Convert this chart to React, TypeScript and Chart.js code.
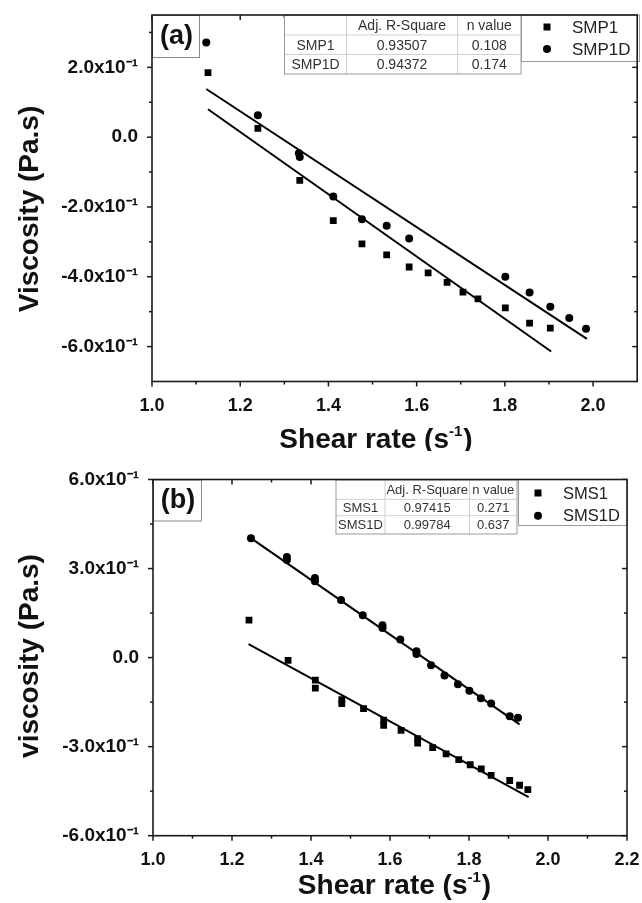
import React, { useEffect, useRef } from 'react';
import { Chart, registerables } from 'chart.js';

Chart.register(...registerables);

const FONT = '"Liberation Sans", Arial, Helvetica, sans-serif';

// ---------------- Panel (a) data ----------------
const smp1X = [1.127, 1.240, 1.335, 1.411, 1.476, 1.532, 1.583, 1.626, 1.669, 1.705, 1.739, 1.801, 1.856, 1.903];
const smp1Y = [0.185, 0.025, -0.124, -0.239, -0.306, -0.337, -0.372, -0.389, -0.416, -0.444, -0.463, -0.489, -0.533, -0.547];
const smp1dX = [1.123, 1.240, 1.333, 1.335, 1.411, 1.476, 1.532, 1.583, 1.801, 1.856, 1.903, 1.946, 1.984];
const smp1dY = [0.271, 0.063, -0.046, -0.057, -0.170, -0.235, -0.254, -0.290, -0.400, -0.445, -0.486, -0.518, -0.549];
const smp1FitX = [1.127, 1.905];
const smp1FitY = [0.080, -0.614];
const smp1dFitX = [1.123, 1.986];
const smp1dFitY = [0.138, -0.578];
const xTicksA = [1.0, 1.2, 1.4, 1.6, 1.8, 2.0];
const yTicksA = [-0.6, -0.4, -0.2, 0.0, 0.2];
const tableHeadA = ['', 'Adj. R-Square', 'n value'];
const tableNamesA = ['SMP1', 'SMP1D'];
const tableR2A = ['0.93507', '0.94372'];
const tableNA = ['0.108', '0.174'];

// ---------------- Panel (b) data ----------------
const sms1X = [1.243, 1.342, 1.411, 1.411, 1.478, 1.478, 1.533, 1.584, 1.584, 1.628, 1.670, 1.670, 1.708, 1.742, 1.774, 1.803, 1.831, 1.856, 1.903, 1.928, 1.949];
const sms1Y = [0.126, -0.009, -0.076, -0.103, -0.142, -0.155, -0.172, -0.211, -0.228, -0.245, -0.273, -0.288, -0.303, -0.324, -0.344, -0.361, -0.375, -0.397, -0.414, -0.430, -0.445];
const sms1dX = [1.248, 1.339, 1.339, 1.410, 1.410, 1.476, 1.531, 1.581, 1.581, 1.626, 1.667, 1.667, 1.704, 1.738, 1.772, 1.801, 1.830, 1.856, 1.903, 1.924];
const sms1dY = [0.402, 0.339, 0.329, 0.268, 0.257, 0.194, 0.143, 0.109, 0.100, 0.061, 0.021, 0.012, -0.026, -0.060, -0.090, -0.112, -0.137, -0.155, -0.198, -0.203];
const sms1FitX = [1.242, 1.951];
const sms1FitY = [0.045, -0.470];
const sms1dFitX = [1.245, 1.928];
const sms1dFitY = [0.405, -0.225];
const xTicksB = [1.0, 1.2, 1.4, 1.6, 1.8, 2.0, 2.2];
const yTicksB = [-0.6, -0.3, 0.0, 0.3, 0.6];
const tableHeadB = ['', 'Adj. R-Square', 'n value'];
const tableNamesB = ['SMS1', 'SMS1D'];
const tableR2B = ['0.97415', '0.99784'];
const tableNB = ['0.271', '0.637'];

const xTitleMain = 'Shear rate (s';
const xTitleSup = '-1';
const xTitleTail = ')';

type Spec = {
  canvasH: number;
  top: number;
  area: { left: number; right: number; top: number; bottom: number };
  xMin: number; xMax: number; yMin: number; yMax: number;
  xTicks: number[]; yTicks: number[];
  series: { label: string; style: 'rect' | 'circle'; xs: number[]; ys: number[] }[];
  fits: { xs: number[]; ys: number[] }[];
  panelLabel: string;
  labelBox: { x: number; y: number; w: number; h: number };
  table: { cols: number[]; rows: number[]; font: number; cells: string[][] };
  legend: { x0: number; y0: number; x1: number; y1: number; itemY: number[]; markerX: number; textX: number; font: number };
  yTitle: string; yTitleX: number; yTitleY: number;
  xTitleX: number; xTitleY: number;
  tickFont: number;
};

function minorTicks(major: number[], min: number, max: number) {
  const step = major[1] - major[0];
  const out: number[] = [];
  for (let v = major[0] - step / 2; v < max - 1e-9; v += step) {
    if (v > min + 1e-9) out.push(+v.toFixed(4));
  }
  return out;
}

function yLabel(v: number) {
  if (Math.abs(v) < 1e-9) return '0.0';
  return `${(v * 10).toFixed(1)}x10\u207B\u00B9`;
}

function makeDecor(p: Spec) {
  return {
    id: 'decor',
    afterDraw(chart: any) {
      const ctx: CanvasRenderingContext2D = chart.ctx;
      const a = chart.chartArea;
      const xs = chart.scales.x;
      const ys = chart.scales.y;
      ctx.save();
      const line = (x1: number, y1: number, x2: number, y2: number) => {
        ctx.beginPath(); ctx.moveTo(x1, y1); ctx.lineTo(x2, y2); ctx.stroke();
      };
      // ticks
      ctx.strokeStyle = '#1a1a1a';
      ctx.lineWidth = 1.5;
      const tx = (v: number, len: number) => {
        const px = xs.getPixelForValue(v);
        line(px, a.bottom, px, a.bottom + len);
        line(px, a.top, px, a.top + len);
      };
      const ty = (v: number, len: number) => {
        const py = ys.getPixelForValue(v);
        line(a.left - len, py, a.left, py);
        line(a.right, py, a.right - len, py);
      };
      p.xTicks.forEach((v) => tx(v, 5));
      minorTicks(p.xTicks, p.xMin, p.xMax).forEach((v) => tx(v, 3));
      p.yTicks.forEach((v) => ty(v, 5));
      minorTicks(p.yTicks, p.yMin, p.yMax).forEach((v) => ty(v, 3));

      // panel label box
      const lb = p.labelBox;
      ctx.fillStyle = '#fff';
      ctx.fillRect(lb.x, lb.y, lb.w, lb.h);
      ctx.strokeStyle = '#8a8a8a';
      ctx.lineWidth = 1;
      ctx.strokeRect(lb.x + 0.5, lb.y + 0.5, lb.w, lb.h);
      ctx.fillStyle = '#111';
      ctx.font = `bold 27px ${FONT}`;
      ctx.textAlign = 'center';
      ctx.textBaseline = 'middle';
      ctx.fillText(p.panelLabel, lb.x + lb.w / 2 + 1, lb.y + lb.h / 2 + 1);

      // table
      const t = p.table;
      const tx0 = t.cols[0], tx1 = t.cols[t.cols.length - 1];
      const ty0 = t.rows[0], ty1 = t.rows[t.rows.length - 1];
      ctx.fillStyle = '#fff';
      ctx.fillRect(tx0, ty0, tx1 - tx0, ty1 - ty0);
      ctx.strokeStyle = '#cfcfcf';
      ctx.lineWidth = 1;
      t.rows.slice(1, -1).forEach((r) => line(tx0, r, tx1, r));
      t.cols.slice(1, -1).forEach((c) => line(c, ty0, c, ty1));
      ctx.strokeStyle = '#9a9a9a';
      ctx.strokeRect(tx0, ty0, tx1 - tx0, ty1 - ty0);
      ctx.fillStyle = '#333';
      ctx.font = `${t.font}px ${FONT}`;
      t.cells.forEach((row, ri) => {
        row.forEach((cell, ci) => {
          const cx = (t.cols[ci] + t.cols[ci + 1]) / 2;
          const cy = (t.rows[ri] + t.rows[ri + 1]) / 2 + 1;
          ctx.fillText(cell, cx, cy);
        });
      });

      // legend
      const lg = p.legend;
      ctx.fillStyle = '#fff';
      ctx.fillRect(lg.x0, lg.y0, lg.x1 - lg.x0, lg.y1 - lg.y0);
      ctx.strokeStyle = '#9a9a9a';
      ctx.strokeRect(lg.x0 + 0.5, lg.y0, lg.x1 - lg.x0, lg.y1 - lg.y0 + 0.5);
      ctx.font = `${lg.font}px ${FONT}`;
      ctx.textAlign = 'left';
      p.series.forEach((s, i) => {
        const y = lg.itemY[i];
        ctx.fillStyle = '#000';
        if (s.style === 'rect') {
          ctx.fillRect(lg.markerX - 3.5, y - 3.5, 7, 7);
        } else {
          ctx.beginPath(); ctx.arc(lg.markerX, y, 4, 0, Math.PI * 2); ctx.fill();
        }
        ctx.fillStyle = '#222';
        ctx.fillText(s.label, lg.textX, y + 1);
      });

      // frame
      ctx.strokeStyle = '#1a1a1a';
      ctx.lineWidth = 1.6;
      ctx.strokeRect(a.left, a.top, a.right - a.left, a.bottom - a.top);

      // y title
      ctx.fillStyle = '#111';
      ctx.font = `bold 28px ${FONT}`;
      ctx.textAlign = 'center';
      ctx.textBaseline = 'middle';
      ctx.save();
      ctx.translate(p.yTitleX, p.yTitleY);
      ctx.rotate(-Math.PI / 2);
      ctx.fillText(p.yTitle, 0, 0);
      ctx.restore();

      // x title with superscript
      const mainFont = `bold 28px ${FONT}`;
      const supFont = `bold 15px ${FONT}`;
      ctx.textAlign = 'left';
      ctx.textBaseline = 'alphabetic';
      ctx.font = mainFont;
      const w1 = ctx.measureText(xTitleMain).width;
      const w3 = ctx.measureText(xTitleTail).width;
      ctx.font = supFont;
      const w2 = ctx.measureText(xTitleSup).width;
      const total = w1 + w2 + w3 + 1;
      let x = p.xTitleX - total / 2;
      const base = p.xTitleY + 10;
      ctx.font = mainFont;
      ctx.fillText(xTitleMain, x, base);
      x += w1;
      ctx.font = supFont;
      ctx.fillText(xTitleSup, x, base - 12);
      x += w2 + 1;
      ctx.font = mainFont;
      ctx.fillText(xTitleTail, x, base);
      ctx.restore();
    },
  };
}

function buildConfig(p: Spec): any {
  const datasets: any[] = [];
  p.series.forEach((s) => {
    datasets.push({
      label: s.label,
      data: s.xs.map((x, i) => ({ x, y: s.ys[i] })),
      pointStyle: s.style,
      pointRadius: s.style === 'rect' ? 4.8 : 4,
      backgroundColor: '#000',
      borderColor: '#000',
      borderWidth: 0,
      showLine: false,
    });
  });
  p.fits.forEach((f) => {
    datasets.push({
      label: 'fit',
      data: f.xs.map((x, i) => ({ x, y: f.ys[i] })),
      showLine: true,
      pointRadius: 0,
      borderColor: '#000',
      borderWidth: 2,
      fill: false,
    });
  });
  const xFont = { family: FONT, size: p.tickFont, weight: 'bold' as const };
  const yFont = { family: FONT, size: p.tickFont + 1, weight: 'bold' as const };
  return {
    type: 'scatter',
    data: { datasets },
    options: {
      animation: false,
      responsive: false,
      devicePixelRatio: 1,
      layout: { padding: { left: 0, right: 642 - p.area.right, top: p.area.top, bottom: 0 } },
      plugins: { legend: { display: false }, tooltip: { enabled: false } },
      scales: {
        x: {
          type: 'linear',
          min: p.xMin,
          max: p.xMax,
          afterBuildTicks: (s: any) => { s.ticks = p.xTicks.map((v) => ({ value: v })); },
          afterFit: (s: any) => { s.height = p.canvasH - p.area.bottom; s.paddingLeft = 0; s.paddingRight = 0; },
          ticks: { callback: (v: number) => Number(v).toFixed(1), font: xFont, color: '#111', padding: 6, maxRotation: 0, autoSkip: false },
          grid: { display: false },
          border: { display: false },
        },
        y: {
          type: 'linear',
          min: p.yMin,
          max: p.yMax,
          afterBuildTicks: (s: any) => { s.ticks = p.yTicks.map((v) => ({ value: v })); },
          afterFit: (s: any) => { s.width = p.area.left; s.paddingTop = 0; s.paddingBottom = 0; },
          ticks: { callback: (v: number) => yLabel(Number(v)), font: yFont, color: '#111', padding: 6, autoSkip: false },
          grid: { display: false },
          border: { display: false },
        },
      },
    },
    plugins: [makeDecor(p)],
  };
}

const specA: Spec = {
  canvasH: 451,
  top: 0,
  area: { left: 152, right: 639, top: 15, bottom: 381.5 },
  xMin: 1.0, xMax: 2.1, yMin: -0.7, yMax: 0.35,
  xTicks: xTicksA, yTicks: yTicksA,
  series: [
    { label: 'SMP1', style: 'rect', xs: smp1X, ys: smp1Y },
    { label: 'SMP1D', style: 'circle', xs: smp1dX, ys: smp1dY },
  ],
  fits: [
    { xs: smp1FitX, ys: smp1FitY },
    { xs: smp1dFitX, ys: smp1dFitY },
  ],
  panelLabel: '(a)',
  labelBox: { x: 152, y: 15, w: 47, h: 42 },
  table: {
    cols: [284.5, 346.5, 457.5, 521],
    rows: [15, 35, 54.5, 74],
    font: 14,
    cells: [tableHeadA, [tableNamesA[0], tableR2A[0], tableNA[0]], [tableNamesA[1], tableR2A[1], tableNA[1]]],
  },
  legend: { x0: 521, y0: 15, x1: 639, y1: 61, itemY: [27, 49], markerX: 547, textX: 572, font: 17 },
  yTitle: 'Viscosity (Pa.s)', yTitleX: 30, yTitleY: 209,
  xTitleX: 376, xTitleY: 438,
  tickFont: 18,
};

const specB: Spec = {
  canvasH: 452,
  top: 451,
  area: { left: 153, right: 627, top: 28.5, bottom: 384.7 },
  xMin: 1.0, xMax: 2.2, yMin: -0.6, yMax: 0.6,
  xTicks: xTicksB, yTicks: yTicksB,
  series: [
    { label: 'SMS1', style: 'rect', xs: sms1X, ys: sms1Y },
    { label: 'SMS1D', style: 'circle', xs: sms1dX, ys: sms1dY },
  ],
  fits: [
    { xs: sms1FitX, ys: sms1FitY },
    { xs: sms1dFitX, ys: sms1dFitY },
  ],
  panelLabel: '(b)',
  labelBox: { x: 153, y: 28.5, w: 48, h: 41 },
  table: {
    cols: [336, 385, 469.5, 517],
    rows: [29, 48.3, 64.7, 83],
    font: 13,
    cells: [tableHeadB, [tableNamesB[0], tableR2B[0], tableNB[0]], [tableNamesB[1], tableR2B[1], tableNB[1]]],
  },
  legend: { x0: 518, y0: 28.5, x1: 627, y1: 74, itemY: [42, 64.7], markerX: 538, textX: 563, font: 16.5 },
  yTitle: 'viscosity (Pa.s)', yTitleX: 30, yTitleY: 205,
  xTitleX: 394.5, xTitleY: 432.5,
  tickFont: 18,
};

function Panel({ spec }: { spec: Spec }) {
  const ref = useRef<HTMLCanvasElement>(null);
  useEffect(() => {
    if (!ref.current) return;
    const chart = new Chart(ref.current, buildConfig(spec));
    return () => chart.destroy();
  }, [spec]);
  return (
    <canvas
      ref={ref}
      width={642}
      height={spec.canvasH}
      style={{ position: 'absolute', left: 0, top: spec.top, width: 642, height: spec.canvasH, display: 'block' }}
    />
  );
}

export default function App() {
  return (
    <div style={{ position: 'absolute', left: 0, top: 0, width: 642, height: 903, background: '#fff' }}>
      <Panel spec={specA} />
      <Panel spec={specB} />
    </div>
  );
}
